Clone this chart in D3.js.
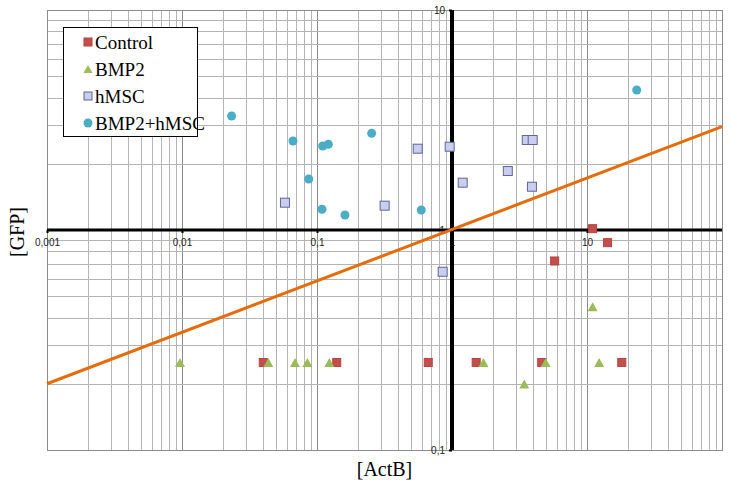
<!DOCTYPE html>
<html><head><meta charset="utf-8">
<script src="https://cdn.jsdelivr.net/npm/d3@7/dist/d3.min.js"></script>
<style>body{margin:0;background:#fff}svg{display:block}</style>
</head><body>
<svg id="c" width="732" height="489"></svg>
<script>
const seriesNames = ["Control", "BMP2", "hMSC", "BMP2+hMSC"];
const controlX = [0.040, 0.140, 0.667, 1.51, 4.62, 18.1, 11.0, 14.2, 5.76];
const controlY = [0.25, 0.25, 0.25, 0.25, 0.25, 0.25, 1.014, 0.876, 0.723];
const bmp2X = [0.00966, 0.0436, 0.0687, 0.0848, 0.1234, 1.71, 4.94, 3.43, 12.3, 11.0];
const bmp2Y = [0.25, 0.25, 0.25, 0.25, 0.25, 0.25, 0.25, 0.1995, 0.25, 0.448];
const hmscX = [0.0579, 0.317, 0.557, 0.961, 1.20, 2.59, 3.91, 3.58, 3.96, 0.853];
const hmscY = [1.331, 1.29, 2.342, 2.391, 1.641, 1.854, 1.573, 2.565, 2.565, 0.646];
const comboX = [0.0233, 0.0664, 0.0868, 0.1102, 0.1213, 0.1089, 0.1611, 0.254, 0.592, 23.35];
const comboY = [3.297, 2.538, 1.705, 2.409, 2.453, 1.242, 1.17, 2.751, 1.233, 4.33];
const trendX = [0.001, 100];
const trendY = [0.2, 2.95];
const xTickValues = [0.001, 0.01, 0.1, 1, 10];
const xTickLabels = ["0,001", "0,01", "0,1", "1", "10"];
const yTickValues = [0.1, 1, 10];
const yTickLabels = ["0,1", "1", "10"];
const xTitle = "[ActB]";
const yTitle = "[GFP]";

const svg = d3.select("#c");
const L = 47, R = 722, T = 10, B = 450;
const x = d3.scaleLog().domain([0.001, 100]).range([L, R]);
const y = d3.scaleLog().domain([0.1, 10]).range([B, T]);

// gridlines
const grid = svg.append("g");
const xGrid = [], yGrid = [];
for (let e = -3; e < 2; e++) for (let k = 1; k <= 9; k++) xGrid.push(k * Math.pow(10, e));
xGrid.push(100);
for (let e = -1; e < 1; e++) for (let k = 1; k <= 9; k++) yGrid.push(k * Math.pow(10, e));
yGrid.push(10);
grid.selectAll("line.v").data(xGrid).join("line")
  .attr("x1", d => Math.round(x(d)) + 0.5).attr("x2", d => Math.round(x(d)) + 0.5)
  .attr("y1", T).attr("y2", B)
  .attr("stroke", d => Math.abs(Math.log10(d) - Math.round(Math.log10(d))) < 1e-9 ? "#8c8c8c" : "#b4b4b4")
  .attr("stroke-width", 1);
grid.selectAll("line.h").data(yGrid).join("line")
  .attr("y1", d => Math.round(y(d)) + 0.5).attr("y2", d => Math.round(y(d)) + 0.5)
  .attr("x1", L).attr("x2", R)
  .attr("stroke", d => Math.abs(Math.log10(d) - Math.round(Math.log10(d))) < 1e-9 ? "#8c8c8c" : "#b4b4b4")
  .attr("stroke-width", 1);
svg.append("rect").attr("x", L + 0.5).attr("y", T + 0.5).attr("width", R - L).attr("height", B - T)
  .attr("fill", "none").attr("stroke", "#8c8c8c");

// axes
const xAxis = d3.axisBottom(x).tickValues(xTickValues)
  .tickFormat((d, i) => xTickLabels[i]).tickSize(3).tickPadding(6);
const gx = svg.append("g").attr("transform", `translate(0,${y(1)})`).call(xAxis);
gx.select(".domain").remove();
gx.selectAll("text").attr("font-family", "Liberation Sans, Arial, sans-serif").attr("font-size", 10).attr("fill", "#222");
gx.selectAll("line").attr("stroke", "#000").attr("stroke-width", 2);

const yAxis = d3.axisLeft(y).tickValues(yTickValues)
  .tickFormat((d, i) => yTickLabels[i]).tickSize(3).tickPadding(4);
const gy = svg.append("g").attr("transform", `translate(${x(1)},0)`).call(yAxis);
gy.select(".domain").remove();
gy.selectAll("text").attr("font-family", "Liberation Sans, Arial, sans-serif").attr("font-size", 10).attr("fill", "#222");
gy.selectAll("line").attr("stroke", "#000").attr("stroke-width", 2);

svg.append("line").attr("x1", L).attr("x2", R).attr("y1", y(1)).attr("y2", y(1))
  .attr("stroke", "#000").attr("stroke-width", 3);
svg.append("line").attr("x1", x(1)).attr("x2", x(1)).attr("y1", T).attr("y2", B)
  .attr("stroke", "#000").attr("stroke-width", 4);

// trendline
svg.append("path").datum(trendX.map((d, i) => [d, trendY[i]]))
  .attr("d", d3.line().x(d => x(d[0])).y(d => y(d[1])))
  .attr("stroke", "#E46C0A").attr("stroke-width", 3).attr("fill", "none");

// markers
const styles = {
  "Control": {fill: "#C0504D", stroke: "#B8413E", shape: "square", size: 8},
  "BMP2": {fill: "#9BBB59", stroke: "#9BBB59", shape: "triangle", size: 9},
  "hMSC": {fill: "#C9CDEE", stroke: "#5F6496", shape: "square", size: 9},
  "BMP2+hMSC": {fill: "#4BACC6", stroke: "#4BACC6", shape: "circle", size: 9}
};
function drawMarker(g, px, py, st) {
  if (st.shape === "square") {
    g.append("rect").attr("x", px - st.size / 2).attr("y", py - st.size / 2)
      .attr("width", st.size).attr("height", st.size)
      .attr("fill", st.fill).attr("stroke", st.stroke).attr("stroke-width", 1);
  } else if (st.shape === "triangle") {
    const s = st.size;
    g.append("path").attr("d", `M${px},${py - s / 2}L${px + s / 2 + 0.5},${py + s / 2}L${px - s / 2 - 0.5},${py + s / 2}Z`)
      .attr("fill", st.fill);
  } else {
    g.append("circle").attr("cx", px).attr("cy", py).attr("r", st.size / 2).attr("fill", st.fill);
  }
}
const allSeries = [
  ["hMSC", hmscX, hmscY],
  ["BMP2+hMSC", comboX, comboY],
  ["Control", controlX, controlY],
  ["BMP2", bmp2X, bmp2Y]
];
const mg = svg.append("g");
allSeries.forEach(([name, xs, ys]) => {
  xs.forEach((v, i) => drawMarker(mg, x(v), y(ys[i]), styles[name]));
});

// titles
svg.append("text").attr("x", (L + R) / 2 + 0).attr("y", 476).attr("text-anchor", "middle")
  .attr("font-family", "Liberation Serif, Times New Roman, serif").attr("font-size", 20)
  .attr("fill", "#000").text(xTitle);
svg.append("text").attr("transform", `translate(24,${y(1) + 2}) rotate(-90)`).attr("text-anchor", "middle")
  .attr("font-family", "Liberation Serif, Times New Roman, serif").attr("font-size", 20)
  .attr("fill", "#000").text(yTitle);

// legend
const lg = svg.append("g");
lg.append("rect").attr("x", 63.5).attr("y", 27.5).attr("width", 134).attr("height", 109)
  .attr("fill", "#fff").attr("stroke", "#000").attr("stroke-width", 1);
seriesNames.forEach((n, i) => {
  const cy = 42 + i * 27;
  const st = Object.assign({}, styles[n], {size: n === "BMP2+hMSC" ? 9 : 8});
  drawMarker(lg, 88, cy, st);
  lg.append("text").attr("x", 95).attr("y", cy + 6.5)
    .attr("font-family", "Liberation Serif, Times New Roman, serif").attr("font-size", 19)
    .attr("fill", "#000").text(n);
});
</script>
</body></html>
